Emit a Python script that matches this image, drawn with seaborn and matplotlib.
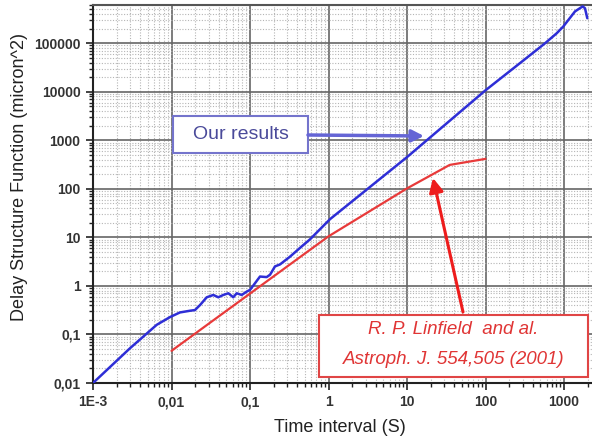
import matplotlib
matplotlib.use("Agg")
import matplotlib.pyplot as plt
import seaborn as sns
import pandas as pd
from matplotlib.ticker import FixedLocator, FixedFormatter, LogLocator, NullFormatter
from matplotlib.patches import Rectangle

# ---- data ----
blue_x = [0.001, 0.00296, 0.00438, 0.00648, 0.00957, 0.0128, 0.0172, 0.0199, 0.0231,
          0.0281, 0.0341, 0.0395, 0.0457, 0.053, 0.0612, 0.0677, 0.0784, 0.0908, 0.1,
          0.116, 0.134, 0.163, 0.18, 0.208, 0.241, 0.323, 0.44, 0.581, 1.045, 10, 100,
          335, 573, 807, 980, 1380, 1730, 1850, 1980]
blue_y = [0.01, 0.052, 0.0906, 0.158, 0.228, 0.284, 0.308, 0.318, 0.404,
          0.583, 0.651, 0.583, 0.651, 0.705, 0.583, 0.705, 0.651, 0.763, 0.828,
          1.14, 1.56, 1.52, 1.7, 2.52, 2.77, 4.0, 6.2, 9.1, 23.7, 450, 10700,
          50000, 99500, 160000, 221000, 451000, 573000, 525000, 327000]
red_x = [0.01, 1, 10, 35, 100]
red_y = [0.046, 10.5, 102, 311, 414]

x_ticks = [1e-3, 1e-2, 0.1, 1, 10, 100, 1000]
x_tick_labels = ["1E-3", "0,01", "0,1", "1", "10", "100", "1000"]
y_ticks = [0.01, 0.1, 1, 10, 100, 1000, 10000, 100000]
y_tick_labels = ["0,01", "0,1", "1", "10", "100", "1000", "10000", "100000"]

x_label = "Time interval (S)"
y_label = "Delay Structure Function (micron^2)"
note_blue = "Our results"
note_red = ["R. P. Linfield  and al.", "Astroph. J. 554,505 (2001)"]

# ---- style ----
sns.set_theme(style="white")
plt.rcParams['font.family'] = ['Liberation Sans', 'DejaVu Sans']

fig = plt.figure(figsize=(5.92, 4.41), dpi=100)
fig.patch.set_facecolor("white")
ax = fig.add_axes([93/592, 1-383/441, 499/592, 378/441])
ax.set_facecolor("white")

df_b = pd.DataFrame({"x": blue_x, "y": blue_y})
df_r = pd.DataFrame({"x": red_x, "y": red_y})
sns.lineplot(data=df_b, x="x", y="y", ax=ax, color="#2e2ed6", lw=1.8,
             estimator=None, sort=False, zorder=5)
sns.lineplot(data=df_r, x="x", y="y", ax=ax, color="#e83a3a", lw=1.6,
             estimator=None, sort=False, zorder=5)

ax.set_xscale("log")
ax.set_yscale("log")
ax.set_xlim(1e-3, 10**(3 + 28/78.5))
ax.set_ylim(0.01, 10**(5 + 38/48.3))

ax.xaxis.set_major_locator(FixedLocator(x_ticks))
ax.xaxis.set_major_formatter(FixedFormatter(x_tick_labels))
ax.yaxis.set_major_locator(FixedLocator(y_ticks))
ax.yaxis.set_major_formatter(FixedFormatter(y_tick_labels))
ax.xaxis.set_minor_locator(LogLocator(base=10, subs=range(2, 10), numticks=30))
ax.yaxis.set_minor_locator(LogLocator(base=10, subs=range(2, 10), numticks=30))
ax.xaxis.set_minor_formatter(NullFormatter())
ax.yaxis.set_minor_formatter(NullFormatter())

ax.tick_params(which="major", direction="out", length=5, width=1.2, color="#222222",
               labelsize=10, labelcolor="#333333", pad=4, bottom=True, left=True)
ax.tick_params(which="minor", direction="out", length=3, width=1.0, color="#222222",
               bottom=True, left=True)
for lab in ax.get_xticklabels() + ax.get_yticklabels():
    lab.set_fontweight("bold")

ax.set_axisbelow(True)
ax.grid(which="major", color="#666666", lw=1.2)
ax.grid(which="minor", color="#b5b5b5", lw=0.8, ls=(0, (1, 1.5)))

for s in ["left", "bottom"]:
    ax.spines[s].set_color("#222222")
    ax.spines[s].set_linewidth(1.5)
ax.spines["top"].set_color("#555555")
ax.spines["top"].set_linewidth(1.5)
ax.spines["right"].set_visible(False)

ax.set_xlabel("")
ax.set_ylabel("")
fig.text(340/592, 1-428/441, x_label, ha="center", va="center", fontsize=13, color="#222222")
fig.text(20/592, 1-177/441, y_label, ha="center", va="center", rotation=90,
         fontsize=13, color="#222222")

# ---- annotations ----
def afx(px):
    return (px - 93) / 499

def afy(py):
    return (383 - py) / 378

ax.add_patch(Rectangle((afx(173), afy(153)), afx(308) - afx(173), afy(116) - afy(153),
                       transform=ax.transAxes, facecolor="white", edgecolor="#7474cc",
                       lw=1.5, zorder=8))
ax.text(afx(240.5), afy(134.5), note_blue, transform=ax.transAxes, ha="center",
        va="center", fontsize=14, color="#4a4a9a", zorder=9)
ax.annotate("", xy=(afx(424), afy(136)), xytext=(afx(308), afy(135)),
            xycoords="axes fraction", textcoords="axes fraction",
            arrowprops=dict(arrowstyle="-|>,head_length=0.6,head_width=0.3",
                            color="#6565d5", lw=2.5, shrinkA=0, shrinkB=0), zorder=9)

ax.add_patch(Rectangle((afx(319), afy(377)), afx(588) - afx(319), afy(315) - afy(377),
                       transform=ax.transAxes, facecolor="white", edgecolor="#e04545",
                       lw=1.5, zorder=8))
ax.text(afx(453.5), afy(329), note_red[0], transform=ax.transAxes, ha="center",
        va="center", fontsize=13.5, style="italic", color="#e03535", zorder=9)
ax.text(afx(453.5), afy(359), note_red[1], transform=ax.transAxes, ha="center",
        va="center", fontsize=13.5, style="italic", color="#e03535", zorder=9)
ax.annotate("", xy=(afx(433), afy(178)), xytext=(afx(463), afy(312)),
            xycoords="axes fraction", textcoords="axes fraction",
            arrowprops=dict(arrowstyle="-|>,head_length=0.7,head_width=0.35",
                            color="#ee1c1c", lw=2.2, shrinkA=0, shrinkB=0), zorder=9)

fig.savefig("out.png", dpi=100)
